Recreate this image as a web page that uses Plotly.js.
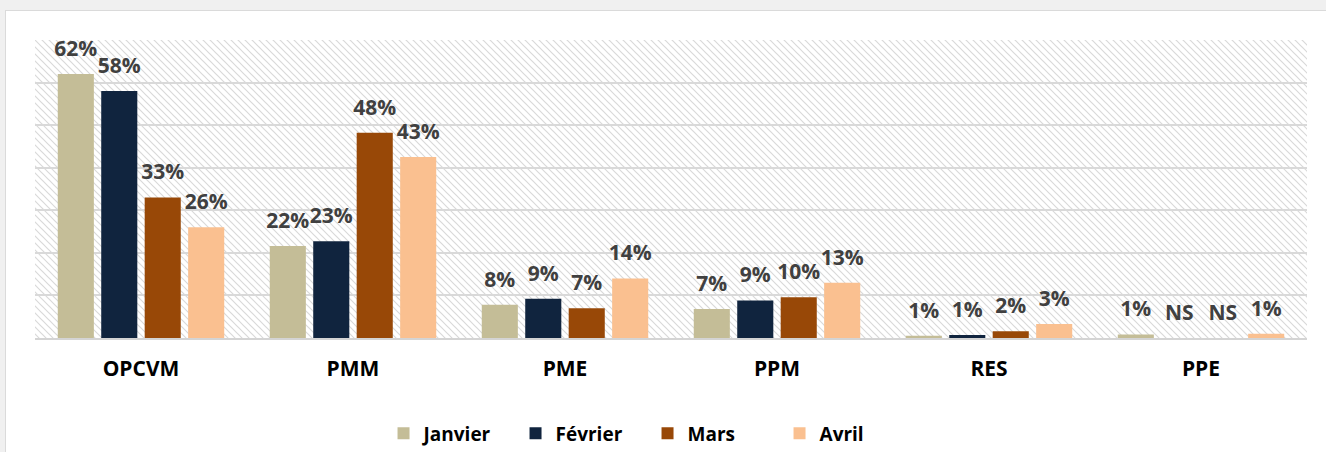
<!DOCTYPE html>
<html>
<head>
<meta charset="utf-8">
<script src="https://cdn.plot.ly/plotly-3.0.1.min.js"></script>
<style>
  html, body { margin: 0; padding: 0; background: #f0f0f0; overflow: hidden; }
  #graphique { position: absolute; left: 5px; top: 10px; width: 1320px; height: 441px;
    background: #fff; border-left: 1px solid #dadada; border-top: 1px solid #dadada; }
</style>
</head>
<body>
<div id="graphique"></div>
<script>
// catégories et séries (en %)
const categories = ['OPCVM', 'PMM', 'PME', 'PPM', 'RES', 'PPE'];
const mois = ['Janvier', 'Février', 'Mars', 'Avril'];
const janvier = [62, 21.6, 7.8, 6.8, 0.5, 0.8];
const fevrier = [58, 22.7, 9.2, 8.8, 0.7, 0];
const mars    = [33, 48.2, 7.0, 9.6, 1.6, 0];
const avril   = [26, 42.5, 14.0, 13.0, 3.3, 1.0];

// étiquettes affichées au-dessus des barres
const janvierTxt = ['62%', '22%', '8%', '7%', '1%', '1%'];
const fevrierTxt = ['58%', '23%', '9%', '9%', '1%', 'NS'];
const marsTxt    = ['33%', '48%', '7%', '10%', '2%', 'NS'];
const avrilTxt   = ['26%', '43%', '14%', '13%', '3%', '1%'];

const couleurs = ['#c4bd97', '#10243e', '#984807', '#fac090'];
const series = [janvier, fevrier, mars, avril];
const textes = [janvierTxt, fevrierTxt, marsTxt, avrilTxt];

const police = 'Open Sans, Noto Sans, sans-serif';

const barres = series.map((y, i) => ({
  type: 'bar', name: mois[i], x: categories, y: y,
  marker: { color: couleurs[i] }, hoverinfo: 'skip'
}));

// étiquettes : points invisibles groupés comme les barres (la taille du marqueur donne l'écart)
const etiquettes = series.map((y, i) => ({
  type: 'scatter', mode: 'markers+text', x: categories, y: y,
  text: textes[i], textposition: 'top center',
  textfont: { family: police, size: 21, color: '#404040', weight: 'bold' },
  marker: { size: 19, opacity: 0 }, showlegend: false, hoverinfo: 'skip', cliponaxis: false
}));

// fond hachuré de la zone de tracé
const hachure = '<svg xmlns="http://www.w3.org/2000/svg" width="1272" height="298">' +
  '<defs><pattern id="h" width="7" height="7" patternUnits="userSpaceOnUse">' +
  '<path d="M-1,-1L8,8M-1,6L1,8M6,-1L8,1" stroke="#d9d9d9" stroke-width="1.2"/></pattern></defs>' +
  '<rect width="1272" height="298" fill="url(#h)"/></svg>';

const layout = {
  width: 1320, height: 441,
  margin: { l: 29, r: 19, t: 29, b: 114, autoexpand: false },
  paper_bgcolor: '#ffffff', plot_bgcolor: 'rgba(0,0,0,0)',
  font: { family: police },
  barmode: 'group', bargap: 0.18, bargroupgap: 0.17,
  scattermode: 'group', scattergap: 0.18,
  xaxis: {
    showgrid: false, ticks: '', ticklabelstandoff: 11,
    tickfont: { family: police, size: 21, color: '#000', weight: 'bold' },
    showline: true, linecolor: '#d4d4d4', linewidth: 2, fixedrange: true
  },
  yaxis: {
    range: [0, 70], dtick: 10, showticklabels: false, zeroline: false,
    gridcolor: '#d9d9d9', gridwidth: 2, fixedrange: true
  },
  legend: {
    orientation: 'h', x: 0.274, xanchor: 'left', y: -0.32, yanchor: 'middle',
    font: { family: police, size: 19, color: '#000', weight: 'bold' },
    entrywidth: 87, traceorder: 'normal'
  },
  images: [{
    source: 'data:image/svg+xml;charset=utf-8,' + encodeURIComponent(hachure),
    xref: 'paper', yref: 'paper', x: 0, y: 1, sizex: 1, sizey: 1,
    xanchor: 'left', yanchor: 'top', sizing: 'stretch', layer: 'below'
  }]
};

Plotly.newPlot('graphique', barres.concat(etiquettes), layout, { displayModeBar: false, staticPlot: true });
</script>
</body>
</html>
